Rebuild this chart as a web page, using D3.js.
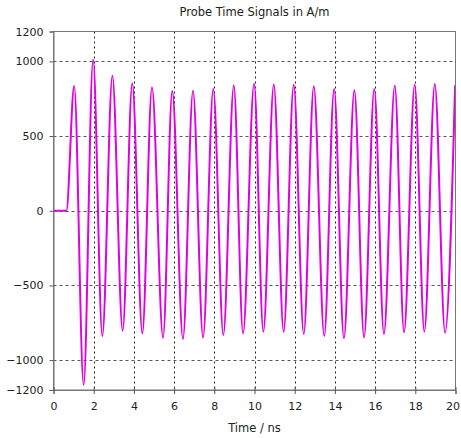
<!DOCTYPE html>
<html>
<head>
<meta charset="utf-8">
<script src="https://cdn.jsdelivr.net/npm/d3@7/dist/d3.min.js"></script>
<style>
  html, body { margin: 0; padding: 0; background: #fff; }
  svg { display: block; }
  text { font-family: "DejaVu Sans", sans-serif; fill: #222; }
</style>
</head>
<body>
<svg id="chart" width="461" height="438"></svg>
<script>
// ---- data ----
const title = "Probe Time Signals in A/m";
const xLabel = "Time / ns";
const xTicks = [0, 2, 4, 6, 8, 10, 12, 14, 16, 18, 20];
const yTicks = [-1200, -1000, -500, 0, 500, 1000, 1200];
const yGrid = [-1000, -500, 0, 500, 1000];
// flat start (signal off)
const startTimes = [0, 0.64];
const startValues = [0, 0];
// positive peaks (ns, A/m)
const peakTimes = [1.03, 1.97, 2.93, 3.92, 4.90, 5.91, 6.94, 7.95, 8.97, 9.98,
                   10.96, 11.95, 12.95, 13.96, 14.97, 15.96, 16.98, 17.97, 18.97, 19.98];
const peakValues = [835, 1013, 904, 853, 826, 801, 803, 815, 839, 850,
                    846, 843, 833, 815, 806, 815, 837, 843, 848, 840];
// negative peaks (ns, A/m)
const troughTimes = [1.50, 2.43, 3.44, 4.42, 5.45, 6.44, 7.44, 8.45, 9.43, 10.44,
                     11.45, 12.45, 13.47, 14.45, 15.45, 16.44, 17.44, 18.45, 19.48];
const troughValues = [-1167, -839, -803, -821, -850, -859, -848, -832, -821, -810,
                      -810, -825, -839, -854, -848, -825, -814, -810, -816];

// ---- layout ----
const svg = d3.select("#chart");
const pL = 53.5, pR = 455.5, pT = 31.5, pB = 390;
const x = d3.scaleLinear().domain([0, 20]).range([pL, pR]);
const y = d3.scaleLinear().domain([-1200, 1200]).range([pB, pT]);

const series = [];
startTimes.forEach((t, i) => series.push({t, v: startValues[i]}));
peakTimes.forEach((t, i) => series.push({t, v: peakValues[i]}));
troughTimes.forEach((t, i) => series.push({t, v: troughValues[i]}));
series.sort((a, b) => a.t - b.t);

// grid
const grid = svg.append("g");
grid.selectAll("line.v").data(xTicks.filter(d => d > 0 && d < 20)).enter()
  .append("line")
  .attr("x1", d => Math.round(x(d)) + 0.5).attr("x2", d => Math.round(x(d)) + 0.5)
  .attr("y1", pT).attr("y2", pB)
  .attr("stroke", "#222").attr("stroke-width", 1).attr("stroke-dasharray", "2,3");
grid.selectAll("line.h").data(yGrid).enter()
  .append("line")
  .attr("x1", pL).attr("x2", pR)
  .attr("y1", d => Math.round(y(d)) + 0.5).attr("y2", d => Math.round(y(d)) + 0.5)
  .attr("stroke", "#555").attr("stroke-width", 1).attr("stroke-dasharray", "3,3");

// clip
svg.append("clipPath").attr("id", "clip").append("rect")
  .attr("x", pL).attr("y", pT).attr("width", pR - pL).attr("height", pB - pT);

// signal
const line = d3.line().x(d => x(d.t)).y(d => y(d.v)).curve(d3.curveMonotoneX);
svg.append("path").datum(series)
  .attr("clip-path", "url(#clip)")
  .attr("d", line)
  .attr("fill", "none")
  .attr("stroke", "#e000e0")
  .attr("stroke-width", 2)
  .attr("stroke-linejoin", "round");

// frame
svg.append("rect").attr("x", pL).attr("y", pT)
  .attr("width", pR - pL).attr("height", pB - pT)
  .attr("fill", "none").attr("stroke", "#777").attr("stroke-width", 1);

// axes
const yAxis = d3.axisLeft(y).tickValues(yTicks).tickSize(4).tickPadding(6).tickFormat(d3.format("d"));
const gy = svg.append("g").attr("transform", `translate(${pL},0)`).call(yAxis);
const xAxis = d3.axisBottom(x).tickValues(xTicks).tickSize(4).tickPadding(8).tickFormat(d3.format("d"));
const gx = svg.append("g").attr("transform", `translate(0,${pB})`).call(xAxis);
[gx, gy].forEach(g => {
  g.select(".domain").attr("stroke", "#777");
  g.selectAll(".tick line").attr("stroke", "#555");
  g.selectAll(".tick text").style("font-family", "'DejaVu Sans', sans-serif")
    .style("font-size", "11px").attr("fill", "#222");
});
gx.selectAll(".tick line").attr("y1", -3);
// keep the last x label inside the window
gx.selectAll(".tick text").filter(d => d === 20).attr("dx", -3);

// titles
svg.append("text").attr("x", (pL + pR) / 2).attr("y", 16)
  .attr("text-anchor", "middle").style("font-size", "11.5px").text(title);
svg.append("text").attr("x", (pL + pR) / 2).attr("y", 432)
  .attr("text-anchor", "middle").style("font-size", "11.5px").text(xLabel);
</script>
</body>
</html>
